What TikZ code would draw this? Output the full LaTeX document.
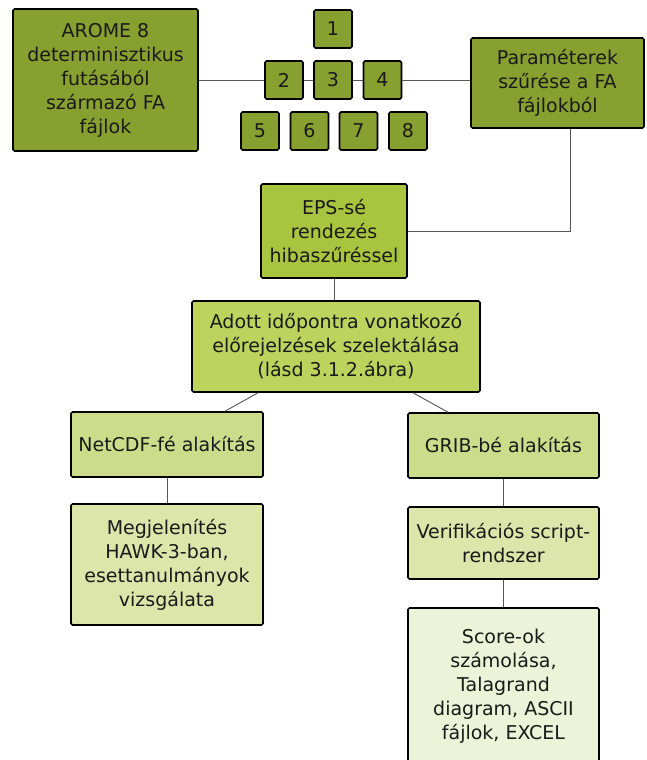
\documentclass[tikz,border=0pt]{standalone}
\usepackage{fontspec}
\setmainfont{DejaVu Sans}
\definecolor{cA}{HTML}{88A02F}
\definecolor{cB}{HTML}{A9C43E}
\definecolor{cC}{HTML}{BCD35E}
\definecolor{cD}{HTML}{CDDC8B}
\definecolor{cE}{HTML}{DCE6AB}
\definecolor{cF}{HTML}{EDF3D8}
\definecolor{txt}{HTML}{1A1A1A}
\definecolor{conn}{HTML}{555555}
\tikzset{
  box/.style={draw=black, line width=1.6pt, rounded corners=1.5pt, align=center,
    inner sep=0pt, text=txt, font=\fontsize{19}{24}\selectfont},
  sq/.style={box, fill=cA, minimum width=38, minimum height=38},
  link/.style={draw=conn, line width=0.9pt}
}
\begin{document}
\begin{tikzpicture}[x=1pt,y=-1pt]
\useasboundingbox (0,0) rectangle (646,760);
\fill[white] (0,0) rectangle (646,760);
\node[box, fill=cA, minimum width=185, minimum height=142] (arome) at (105.5,80) {AROME 8\\determinisztikus\\futásából\\származó FA\\fájlok};
\node[sq] (n1) at (333,29) {1};
\node[sq] (n2) at (284,80) {2};
\node[sq] (n3) at (333,80) {3};
\node[sq] (n4) at (382.5,80) {4};
\node[sq] (n5) at (260,131) {5};
\node[sq] (n6) at (309.5,131) {6};
\node[sq] (n7) at (358.5,131) {7};
\node[sq] (n8) at (408,131) {8};
\node[box, fill=cA, minimum width=173, minimum height=90] (param) at (557.5,83) {Paraméterek\\szűrése a FA\\fájlokból};
\node[box, fill=cB, minimum width=146, minimum height=94] (eps) at (334,231) {EPS-sé\\rendezés\\hibaszűréssel};
\node[box, fill=cC, minimum width=288, minimum height=91] (adott) at (336,346.5) {Adott időpontra vonatkozó\\előrejelzések szelektálása\\(lásd 3.1.2.ábra)};
\node[box, fill=cD, minimum width=192, minimum height=65] (netcdf) at (167,444.5) {NetCDF-fé alakítás};
\node[box, fill=cE, minimum width=192, minimum height=121] (megj) at (167,564.5) {Megjelenítés\\HAWK-3-ban,\\esettanulmányok\\vizsgálata};
\node[box, fill=cD, minimum width=191, minimum height=65] (grib) at (503.5,445.5) {GRIB-bé alakítás};
\node[box, fill=cE, minimum width=191, minimum height=72] (verif) at (503.5,543) {Verifikációs script-\\rendszer};
\node[box, fill=cF, minimum width=191, minimum height=156] (score) at (503.5,686) {Score-ok\\számolása,\\Talagrand\\diagram, ASCII\\fájlok, EXCEL};
\draw[link] (arome.east) -- (n2.west);
\draw[link] (n2.east) -- (n3.west);
\draw[link] (n3.east) -- (n4.west);
\draw[link] (n4.east) -- (n4.east -| param.west);
\draw[link] ([xshift=12.5]param.south) |- (eps.east);
\draw[link] (eps.south) -- (eps.south |- adott.north);
\draw[link] ([xshift=-78]adott.south) -- ([xshift=58]netcdf.north);
\draw[link] ([xshift=77]adott.south) -- ([xshift=-55.5]grib.north);
\draw[link] (netcdf.south) -- (megj.north);
\draw[link] (grib.south) -- (verif.north);
\draw[link] (verif.south) -- (score.north);
\end{tikzpicture}
\end{document}
